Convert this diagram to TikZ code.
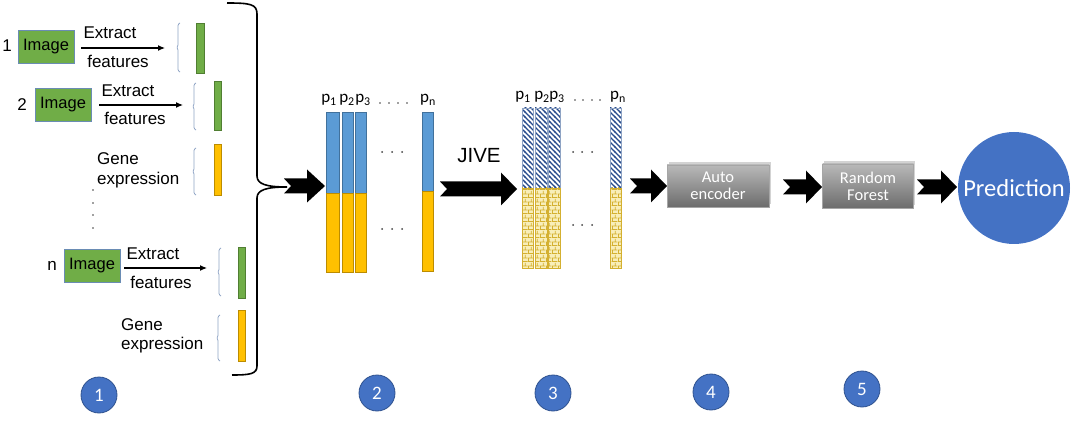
\documentclass[tikz,border=0pt]{standalone}
\usepackage{fontspec}
\setmainfont{Liberation Sans}
\newfontfamily\calib{Carlito}
\usetikzlibrary{patterns,shadows,arrows.meta}

\pgfdeclarepatternformonly{dstripes}{\pgfqpoint{-1pt}{-1pt}}{\pgfqpoint{6pt}{6pt}}{\pgfqpoint{5pt}{5pt}}{%
 \pgfsetlinewidth{1.3pt}\pgfpathmoveto{\pgfqpoint{-1pt}{6pt}}\pgfpathlineto{\pgfqpoint{6pt}{-1pt}}\pgfusepath{stroke}}
\pgfdeclarepatternformonly{ybricks}{\pgfqpoint{0pt}{0pt}}{\pgfqpoint{6pt}{8pt}}{\pgfqpoint{6pt}{8pt}}{%
 \pgfsetlinewidth{0.8pt}%
 \pgfpathmoveto{\pgfqpoint{0pt}{0.5pt}}\pgfpathlineto{\pgfqpoint{6pt}{0.5pt}}%
 \pgfpathmoveto{\pgfqpoint{0pt}{4.5pt}}\pgfpathlineto{\pgfqpoint{6pt}{4.5pt}}%
 \pgfpathmoveto{\pgfqpoint{0.5pt}{0.5pt}}\pgfpathlineto{\pgfqpoint{0.5pt}{4.5pt}}%
 \pgfpathmoveto{\pgfqpoint{3.5pt}{4.5pt}}\pgfpathlineto{\pgfqpoint{3.5pt}{8pt}}%
 \pgfusepath{stroke}}

\definecolor{cgreen}{RGB}{112,173,71}
\definecolor{cgreenD}{RGB}{80,126,50}
\definecolor{cblue}{RGB}{91,155,213}
\definecolor{cblueD}{RGB}{65,113,156}
\definecolor{cyel}{RGB}{255,192,0}
\definecolor{cyelD}{RGB}{188,140,0}
\definecolor{cnavy}{RGB}{40,75,140}
\definecolor{cbrickbg}{RGB}{248,238,185}
\definecolor{cbrick}{RGB}{212,176,48}
\definecolor{cpred}{RGB}{68,114,196}
\definecolor{cpredD}{RGB}{47,82,143}
\definecolor{cbrk}{RGB}{142,163,196}
\definecolor{cimgD}{RGB}{106,140,180}

\newcommand\ft{\fontsize{17}{20}\selectfont}

% stage bars
\newcommand\bartwo[5]{%
 \draw[fill=cblue,draw=cblueD,line width=0.6] (#1,#3) rectangle (#2,#4);
 \draw[fill=cyel,draw=cyelD,line width=0.6] (#1,#4) rectangle (#2,#5);}
\newcommand\barthree[5]{%
 \fill[white] (#1,#3) rectangle (#2,#4);
 \fill[pattern=dstripes,pattern color=cnavy] (#1,#3) rectangle (#2,#4);
 \draw[draw=cbrk,line width=0.6] (#1,#3) rectangle (#2,#4);
 \fill[cbrickbg] (#1,#4) rectangle (#2,#5);
 \fill[pattern=ybricks,pattern color=cbrick] (#1,#4) rectangle (#2,#5);
 \draw[draw=cbrick,line width=0.6] (#1,#4) rectangle (#2,#5);}
% small bracket: x, top, bottom
\newcommand\sbrack[3]{%
 \draw[cbrk,line width=0.8,rounded corners=1] ({#1+2},#2) -- ({#1},{#2+1.5}) -- ({#1},{(#2+#3)/2-1.5}) -- ({#1-1.5},{(#2+#3)/2}) -- ({#1},{(#2+#3)/2+1.5}) -- ({#1},{#3-1.5}) -- ({#1+2},#3);}
% block arrow: tail x, tip x, y, head length
\newcommand\blockarrow[4]{%
 \fill[black] (#1,#3-7.5) -- (#2-#4,#3-7.5) -- (#2-#4,#3-16.5) -- (#2,#3) -- (#2-#4,#3+16.5) -- (#2-#4,#3+7.5) -- (#1,#3+7.5) -- (#1+7,#3) -- cycle;}

\tikzset{
 imgbox/.style={draw=cimgD,line width=0.6,fill=cgreen,minimum width=56,minimum height=33,inner sep=0,font=\fontsize{16.5}{18}\selectfont},
 feat/.style={fill=cgreen,draw=cgreenD,line width=0.6},
 gene/.style={fill=cyel,draw=cyelD,line width=0.6},
 txt/.style={font=\ft,inner sep=0,anchor=base},
 txtw/.style={font=\ft,inner sep=0,anchor=base west},
 extr/.style={-{Latex[length=7,width=6]},line width=1.1},
 plab/.style={font=\calib\fontsize{17}{20}\selectfont,inner sep=0,anchor=base},
 graybox/.style={rectangle,draw=gray!70,line width=0.5,top color=gray!55,bottom color=gray!85!black,text=white,
   align=center,font=\calib\fontsize{16.5}{17}\selectfont,inner sep=0,
   drop shadow={shadow xshift=1.5,shadow yshift=-2.5,opacity=0.35}},
 numc/.style={circle,fill=cpred,draw=cpredD,line width=0.8,minimum size=36,inner sep=0,text=white,font=\calib\fontsize{19}{19}\selectfont},
 dotc/.style={fill=black!75}
}

\begin{document}
\begin{tikzpicture}[x=1pt,y=-1pt]
\useasboundingbox (0,0) rectangle (1074,422);

% ---------- stage 1 ----------
\node[txt] (n1) at (7,52) {1};
\node[imgbox] (im1) at (46,46.5) {Image};
\coordinate (a1s) at (81,48); \coordinate (a1e) at (165,48);
\draw[extr] (a1s) -- (a1e);
\node[txt] (ex1) at (110,39) {Extract};
\node[txt] (fe1) at (118,68) {features};
\sbrack{178}{23}{72}
\draw[feat] (196,23) rectangle (204,73);

\node[txt] (n2) at (22,111) {2};
\node[imgbox] (im2) at (63,105) {Image};
\coordinate (a2s) at (99,105); \coordinate (a2e) at (183,105);
\draw[extr] (a2s) -- (a2e);
\node[txt] (ex2) at (128,97) {Extract};
\node[txt] (fe2) at (135,125) {features};
\sbrack{194}{83}{130}
\draw[feat] (214,81) rectangle (221,130);

\node[txtw] (g1a) at (97,165) {Gene};
\node[txtw] (g1b) at (97,185) {expression};
\sbrack{194}{148}{195}
\draw[gene] (214,144) rectangle (221,195);

\foreach \yy in {190,203,215,228} \fill[dotc] (93,\yy) circle (0.9);

\node[txt] (nn) at (52,271) {n};
\node[imgbox] (imn) at (92,265.5) {Image};
\coordinate (ans) at (124,268); \coordinate (ane) at (207,268);
\draw[extr] (ans) -- (ane);
\node[txt] (exn) at (153,259) {Extract};
\node[txt] (fen) at (161,288) {features};
\sbrack{219}{248}{296}
\draw[feat] (238,247) rectangle (245,298);

\node[txtw] (g2a) at (121,330) {Gene};
\node[txtw] (g2b) at (121,349) {expression};
\sbrack{218}{315}{361}
\draw[gene] (238,310) rectangle (245,361);

% big brace
\draw[line width=1.6] (227,3) .. controls (250,3) and (257,4) .. (257,14)
  -- (257,176) .. controls (257,184) and (266,187) .. (287,187)
  .. controls (266,187) and (257,190) .. (257,198)
  -- (257,366) .. controls (257,374) and (250,375) .. (232,375);

% ---------- arrow to stage 2 ----------
\blockarrow{284}{325}{186}{18}

% ---------- stage 2 ----------
\bartwo{326}{339}{112}{193}{272}
\bartwo{342}{353}{112}{193}{272}
\bartwo{355}{366}{112}{193}{272}
\bartwo{422}{433}{112}{191}{271}
\node[plab] (p21) at (329,103) {p\textsubscript{1}};
\node[plab] (p22) at (347,103) {p\textsubscript{2}};
\node[plab] (p23) at (363,103) {p\textsubscript{3}};
\node[plab] (p2n) at (428,103) {p\textsubscript{n}};
\foreach \xx in {380,389,398,407} \fill[dotc] (\xx,103) circle (0.9);
\foreach \xx in {382,392,402} {\fill[dotc] (\xx,152) circle (1); \fill[dotc] (\xx,229) circle (1);}

% ---------- JIVE ----------
\node[font=\fontsize{20.5}{22}\selectfont,inner sep=0,anchor=base] (jive) at (479,163) {JIVE};
\blockarrow{440}{517}{189}{16}

% ---------- stage 3 ----------
\barthree{522}{533}{108}{188}{268}
\barthree{535}{547}{108}{188}{268}
\barthree{548}{560}{108}{188}{268}
\barthree{610}{621}{108}{188}{268}
\node[plab] (p31) at (523,100) {p\textsubscript{1}};
\node[plab] (p32) at (542,100) {p\textsubscript{2}};
\node[plab] (p33) at (557,100) {p\textsubscript{3}};
\node[plab] (p3n) at (618,100) {p\textsubscript{n}};
\foreach \xx in {575,583,592,600} \fill[dotc] (\xx,100) circle (0.9);
\foreach \xx in {573,582,592} {\fill[dotc] (\xx,152) circle (1); \fill[dotc] (\xx,225) circle (1);}

% ---------- stage 4, 5 ----------
\blockarrow{630}{667}{186}{16}
\node[graybox,minimum width=102,minimum height=42] (ae) at (718,186) {Auto\\encoder};
\blockarrow{783}{822}{187}{16}
\node[graybox,minimum width=91,minimum height=44] (rf) at (868,186) {Random\\Forest};
\blockarrow{917}{957}{187}{16}
\node[circle,fill=cpred,minimum size=112,inner sep=0,text=white,font=\calib\fontsize{24.5}{26}\selectfont] (pred) at (1014,188) {Prediction};

% ---------- numbers ----------
\node[numc] (c1) at (99,395) {1};
\node[numc] (c2) at (377,393) {2};
\node[numc] (c3) at (553,393) {3};
\node[numc] (c4) at (711,392) {4};
\node[numc] (c5) at (862,389) {5};
\end{tikzpicture}
\end{document}
